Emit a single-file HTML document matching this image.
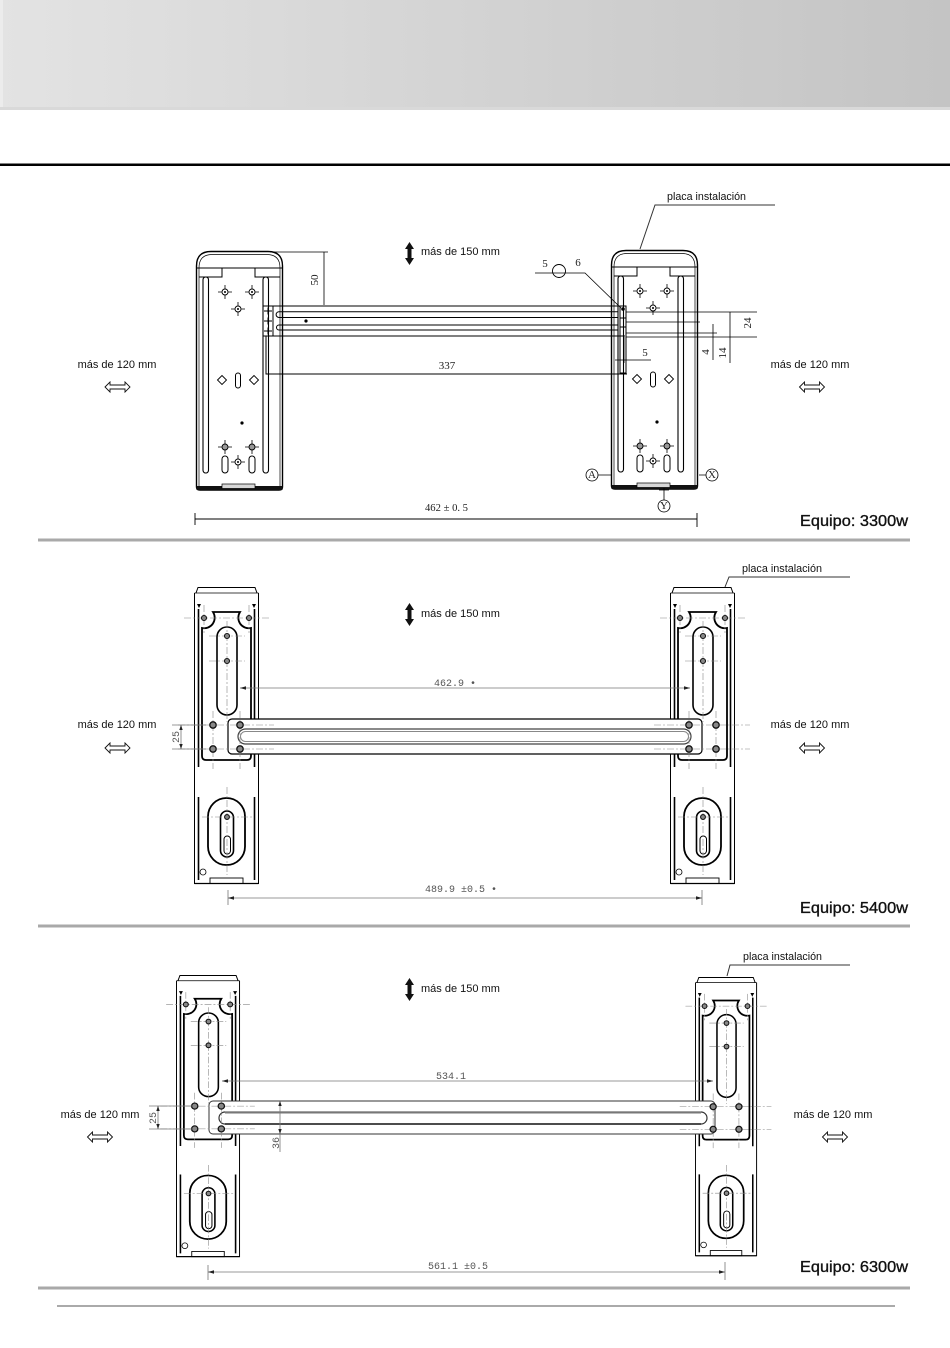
<!DOCTYPE html>
<html><head><meta charset="utf-8">
<style>
html,body{margin:0;padding:0;background:#fff;}
svg{display:block;}
.lbl{font-family:"Liberation Sans",sans-serif;font-size:11px;fill:#111;}
.eq{font-family:"Liberation Sans",sans-serif;font-size:15.5px;fill:#111;stroke:#111;stroke-width:0.35;}
.ser{font-family:"Liberation Serif",serif;font-size:11px;fill:#222;}
.mono{font-family:"Liberation Mono",monospace;font-size:10px;fill:#555;}
</style></head>
<body>
<svg width="950" height="1348" viewBox="0 0 950 1348" xmlns="http://www.w3.org/2000/svg">
<defs>
<linearGradient id="hg" x1="0" y1="0" x2="1" y2="0">
<stop offset="0" stop-color="#e3e3e3"/><stop offset="0.5" stop-color="#d3d3d3"/><stop offset="1" stop-color="#c4c4c4"/>
</linearGradient>
<g id="ch"><circle r="3" fill="#fff" stroke="#000" stroke-width="0.9"/><circle r="1" fill="#000"/><path d="M-7,0H-3M3,0H7M0,-7V-3M0,3V7" stroke="#000" stroke-width="0.8"/></g>
<g id="chg"><circle r="3" fill="#999" stroke="#000" stroke-width="0.9"/><path d="M-7,0H-3M3,0H7M0,-7V-3M0,3V7" stroke="#000" stroke-width="0.8"/></g>
<path id="dia" d="M-4.5,0L0,-4.5L4.5,0L0,4.5Z" fill="#fff" stroke="#000" stroke-width="0.9"/>
<g id="b1">
 <g fill="none" stroke="#000">
 <path d="M0.5,236 V15 Q0.5,0.5 15,0.5 H72 Q86.5,0.5 86.5,15 V236 Q86.5,239 83,239 H4 Q0.5,239 0.5,236 Z" stroke-width="1.4"/>
 <path d="M3,236 V17 Q3,3.5 16,3.5 H71 Q84,3.5 84,17 V236" stroke-width="0.7"/>
 <line x1="0.5" y1="17" x2="86.5" y2="17" stroke-width="1"/>
 <path d="M3,26 H26 V17 M59,17 V26 H84" stroke-width="1"/>
 <rect x="7" y="26" width="5.5" height="196" rx="2.7" stroke-width="1.1"/>
 <rect x="67" y="26" width="5.5" height="196" rx="2.7" stroke-width="1.1"/>
 <rect x="39.5" y="122" width="5" height="15" rx="2.5" stroke-width="1"/>
 <rect x="26" y="205" width="6" height="17" rx="3" stroke-width="1"/>
 <rect x="53" y="205" width="6" height="17" rx="3" stroke-width="1"/>
 </g>
 <rect x="0.5" y="235" width="86" height="4" fill="#111"/>
 <rect x="26" y="233" width="33" height="4.5" fill="#d8d8d8" stroke="#000" stroke-width="0.7"/>
 <use href="#ch" x="29" y="41"/><use href="#ch" x="56" y="41"/><use href="#ch" x="42" y="58"/>
 <use href="#dia" x="26" y="129"/><use href="#dia" x="58" y="129"/>
 <circle cx="46" cy="172" r="1.6" fill="#000"/>
 <use href="#chg" x="29" y="196"/><use href="#chg" x="56" y="196"/><use href="#ch" x="42" y="211"/>
</g>
<g id="b2">
 <g fill="none" stroke="#000">
 <path d="M2,6 L4,0.5 H61 L63,6" stroke-width="1"/>
 <line x1="0.5" y1="6" x2="64.5" y2="6" stroke-width="0.8"/>
 <line x1="0.5" y1="6" x2="0.5" y2="297" stroke-width="1"/>
 <line x1="64.5" y1="6" x2="64.5" y2="297" stroke-width="1"/>
 <path d="M4.5,22 V180 M60.5,22 V180 M4.5,210 V293 M60.5,210 V293" stroke-width="1.6"/>
 <line x1="0.5" y1="296.5" x2="64.5" y2="296.5" stroke-width="1.3"/>
 <rect x="16" y="291" width="33" height="5.5" stroke-width="0.9"/>
 <path d="M8,169 V41 A10.5,10.5 0 0 0 19,25 H46 A10.5,10.5 0 0 0 57,41 V169 Q57,173 53,173 H12 Q8,173 8,169 Z" stroke-width="1.8"/>
 <rect x="23" y="40" width="20" height="88" rx="10" stroke-width="1.6"/>
 <rect x="14" y="211" width="37" height="67" rx="18.5" stroke-width="1.8"/>
 <rect x="26.5" y="224" width="13" height="46" rx="6.5" stroke-width="1.6"/>
 <rect x="30" y="249" width="6.5" height="18" rx="3.2" stroke-width="1"/>
 <circle cx="9" cy="285" r="3" stroke-width="0.8"/>
 </g>
 <path d="M3,17 L5,21 L7,17 Z M58,17 L60,21 L62,17 Z" fill="#000"/>
 <g stroke="#888" stroke-width="0.6" fill="none" stroke-dasharray="7,2,2,2">
  <path d="M-10,31 H75 M10,18 V46 M55,18 V46 M33,34 V135 M15,49 H51 M15,74 H51 M33,200 V288 M8,230 H58"/>
 </g>
 <g fill="#888" stroke="#111" stroke-width="1.1">
  <circle cx="10" cy="31" r="2.5"/><circle cx="55" cy="31" r="2.5"/>
  <circle cx="33" cy="49" r="2.5"/><circle cx="33" cy="74" r="2.5"/>
  <circle cx="33" cy="230" r="2.4"/>
 </g>
</g>
<g id="b2h">
 <g stroke="#888" stroke-width="0.6" fill="none" stroke-dasharray="7,2,2,2">
  <path d="M-16,138 H80 M-16,162 H80 M19,124 V182 M46,124 V182"/>
 </g>
 <g fill="#888" stroke="#111" stroke-width="1.3">
  <circle cx="19" cy="138" r="3.2"/><circle cx="46" cy="138" r="3.2"/>
  <circle cx="19" cy="162" r="3.2"/><circle cx="46" cy="162" r="3.2"/>
 </g>
</g>
<path id="varr" d="M0,0 L4.5,7 L2,7 L2,16 L4.5,16 L0,23 L-4.5,16 L-2,16 L-2,7 L-4.5,7 Z" fill="#111"/>
<path id="harr" d="M-12.5,0 L-7.5,-5 L-7.5,-2 L7.5,-2 L7.5,-5 L12.5,0 L7.5,5 L7.5,2 L-7.5,2 L-7.5,5 Z" fill="#fff" stroke="#111" stroke-width="0.9"/>
</defs>

<rect x="0" y="0" width="950" height="110" fill="url(#hg)"/>
<rect x="0" y="0" width="3" height="110" fill="#ececec"/>
<rect x="0" y="107" width="950" height="3" fill="#d9d9d9"/>
<rect x="0" y="163.5" width="950" height="2.5" fill="#000"/>

<line x1="38" y1="540" x2="910" y2="540" stroke="#a9a9a9" stroke-width="3"/>
<line x1="38" y1="926" x2="910" y2="926" stroke="#a9a9a9" stroke-width="3"/>
<line x1="38" y1="1288" x2="910" y2="1288" stroke="#a9a9a9" stroke-width="3"/>
<line x1="57" y1="1306" x2="895" y2="1306" stroke="#aaa" stroke-width="2"/>

<use href="#b1" transform="translate(196,251)"/>
<use href="#b1" transform="translate(611,250)"/>
<g fill="none" stroke="#000" stroke-width="1">
 <path d="M263,306 H625 M263,336 H625"/>
 <path d="M618,311.7 H279 A2.9,2.9 0 0 0 279,317.5 H618"/>
 <path d="M618,325 H279 A2.5,2.5 0 0 0 279,330 H618"/>
 <rect x="263" y="306" width="10" height="30"/>
 <path d="M264,311 H272 M268,307.5 V314.5 M264,321 H272 M268,317.5 V324.5 M264,331 H272 M268,327.5 V334.5"/>
 <rect x="620" y="306" width="6" height="67"/>
 <path d="M620,318 H626 M620,327 H626"/>
 <path d="M266,336 V374 H627"/>
 <path d="M270,252 H328 M324,252 V305" stroke-width="0.8"/>
 <path d="M195,519 H697 M195,513 V525 M697,513 V527" stroke-width="0.9"/>
 <path d="M626,312 H757 M626,337 H757 M626,322 H700 M626,333 H717 M730,312 V363 M713,324 V360" stroke-width="0.8"/>
 <path d="M615,360 H651 M624,337 V363" stroke-width="0.8"/>
 <path d="M535,273 H585 L621,308" stroke-width="0.8"/>
 <circle cx="559" cy="271" r="6.5" stroke-width="0.9"/>
 <path d="M775,205 H655 L640,249" stroke="#333" stroke-width="1"/>
 <circle cx="592" cy="475" r="6" stroke-width="0.8"/>
 <circle cx="712" cy="475" r="6" stroke-width="0.8"/>
 <circle cx="664" cy="506" r="6" stroke-width="0.8"/>
 <path d="M598,475 H611 M699,475 H706 M664,488 V500 M659,490 H669" stroke-width="0.8"/>
</g>
<circle cx="306" cy="321" r="1.6" fill="#000"/>
<circle cx="623" cy="309" r="1.8" fill="#000"/>
<text class="ser" transform="translate(318,280) rotate(-90)" text-anchor="middle">50</text>
<text class="ser" x="447" y="369" text-anchor="middle">337</text>
<text class="ser" x="425" y="511" textLength="43" lengthAdjust="spacingAndGlyphs">462 ± 0. 5</text>
<text class="ser" x="545" y="267" text-anchor="middle" font-size="10">5</text>
<text class="ser" x="578" y="266" text-anchor="middle" font-size="10">6</text>
<text class="ser" x="645" y="356" text-anchor="middle" font-size="10">5</text>
<text class="ser" transform="translate(751,323) rotate(-90)" text-anchor="middle" font-size="10">24</text>
<text class="ser" transform="translate(726,353) rotate(-90)" text-anchor="middle" font-size="10">14</text>
<text class="ser" transform="translate(709,352) rotate(-90)" text-anchor="middle" font-size="10">4</text>
<text class="ser" x="592" y="478" text-anchor="middle" font-size="7">A</text>
<text class="ser" x="712" y="478" text-anchor="middle" font-size="7">X</text>
<text class="ser" x="664" y="509" text-anchor="middle" font-size="7">Y</text>
<text class="lbl" x="667" y="200" textLength="79" lengthAdjust="spacingAndGlyphs">placa instalación</text>
<use href="#varr" x="409.5" y="242"/>
<text class="lbl" x="421" y="255">más de 150 mm</text>
<text class="lbl" x="117" y="368" text-anchor="middle">más de 120 mm</text>
<use href="#harr" x="117.5" y="387"/>
<text class="lbl" x="810" y="368" text-anchor="middle">más de 120 mm</text>
<use href="#harr" x="812" y="387"/>
<text class="eq" x="800" y="526" textLength="108" lengthAdjust="spacingAndGlyphs">Equipo: 3300w</text>

<use href="#b2" transform="translate(194,587)"/>
<use href="#b2" transform="translate(670,587)"/>
<rect x="228" y="719" width="474" height="35" rx="4" fill="#fff" stroke="#000" stroke-width="1.2"/>
<rect x="238" y="729" width="453" height="15" rx="7.5" fill="none" stroke="#444" stroke-width="1.2"/>
<rect x="240.5" y="731.5" width="448" height="10" rx="5" fill="none" stroke="#888" stroke-width="1"/>
<use href="#b2h" transform="translate(194,587)"/>
<use href="#b2h" transform="translate(670,587)"/>
<g stroke="#777" stroke-width="0.8" fill="none">
 <path d="M240,688 H690"/>
 <path d="M228,898 H702 M228,890 V905 M702,890 V905"/>
 <path d="M172,725 H206 M172,749 H206 M181,725 V749"/>
</g>
<g fill="#222">
 <path d="M240,688 L246,686.3 L246,689.7 Z"/>
 <path d="M690,688 L684,686.3 L684,689.7 Z"/>
 <path d="M228,898 L234,896.3 L234,899.7 Z"/>
 <path d="M702,898 L696,896.3 L696,899.7 Z"/>
 <path d="M181,725 L179.3,730 L182.7,730 Z M181,749 L179.3,744 L182.7,744 Z"/>
</g>
<text class="mono" x="455" y="686" text-anchor="middle">462.9 •</text>
<text class="mono" x="461" y="892" text-anchor="middle">489.9 ±0.5 •</text>
<text class="mono" transform="translate(179,737) rotate(-90)" text-anchor="middle">25</text>
<path d="M850,577 H729 L725,587" fill="none" stroke="#333" stroke-width="1"/>
<text class="lbl" x="742" y="572" textLength="80" lengthAdjust="spacingAndGlyphs">placa instalación</text>
<use href="#varr" x="409.5" y="603"/>
<text class="lbl" x="421" y="617">más de 150 mm</text>
<text class="lbl" x="117" y="728" text-anchor="middle">más de 120 mm</text>
<use href="#harr" x="117.5" y="748"/>
<text class="lbl" x="810" y="728" text-anchor="middle">más de 120 mm</text>
<use href="#harr" x="812" y="748"/>
<text class="eq" x="800" y="913" textLength="108" lengthAdjust="spacingAndGlyphs">Equipo: 5400w</text>

<use href="#b2" transform="translate(176,975) scale(0.985,0.95)"/>
<use href="#b2" transform="translate(695,977) scale(0.955,0.94)"/>
<rect x="209" y="1101" width="506" height="33" rx="4" fill="#fff" stroke="#333" stroke-width="1"/>
<rect x="219" y="1112" width="488" height="12" rx="6" fill="none" stroke="#333" stroke-width="1.2"/>
<line x1="225" y1="1112.5" x2="701" y2="1112.5" stroke="#777" stroke-width="2"/>
<line x1="225" y1="1124" x2="701" y2="1124" stroke="#000" stroke-width="1.3"/>
<use href="#b2h" transform="translate(176,975) scale(0.985,0.95)"/>
<use href="#b2h" transform="translate(695,977) scale(0.955,0.94)"/>
<g stroke="#777" stroke-width="0.8" fill="none">
 <path d="M222,1081 H713"/>
 <path d="M208,1272 H725 M208,1265 V1280 M725,1262 V1280"/>
 <path d="M149,1106 H192 M149,1129 H192 M158,1106 V1129"/>
 <path d="M280,1101 V1152"/>
</g>
<g fill="#222">
 <path d="M222,1081 L228,1079.3 L228,1082.7 Z"/>
 <path d="M713,1081 L707,1079.3 L707,1082.7 Z"/>
 <path d="M208,1272 L214,1270.3 L214,1273.7 Z"/>
 <path d="M725,1272 L719,1270.3 L719,1273.7 Z"/>
 <path d="M158,1106 L156.3,1111 L159.7,1111 Z M158,1129 L156.3,1124 L159.7,1124 Z"/>
 <path d="M280,1101 L278.3,1106 L281.7,1106 Z M280,1134 L278.3,1129 L281.7,1129 Z"/>
</g>
<text class="mono" x="451" y="1079" text-anchor="middle">534.1</text>
<text class="mono" x="458" y="1269" text-anchor="middle">561.1 ±0.5</text>
<text class="mono" transform="translate(156,1118) rotate(-90)" text-anchor="middle">25</text>
<text class="mono" transform="translate(279,1143) rotate(-90)" text-anchor="middle">36</text>
<path d="M850,965 H730 L727,976" fill="none" stroke="#333" stroke-width="1"/>
<text class="lbl" x="743" y="960" textLength="79" lengthAdjust="spacingAndGlyphs">placa instalación</text>
<use href="#varr" x="409.5" y="978"/>
<text class="lbl" x="421" y="992">más de 150 mm</text>
<text class="lbl" x="100" y="1118" text-anchor="middle">más de 120 mm</text>
<use href="#harr" x="100" y="1137"/>
<text class="lbl" x="833" y="1118" text-anchor="middle">más de 120 mm</text>
<use href="#harr" x="835" y="1137"/>
<text class="eq" x="800" y="1272" textLength="108" lengthAdjust="spacingAndGlyphs">Equipo: 6300w</text>
</svg>
</body></html>
